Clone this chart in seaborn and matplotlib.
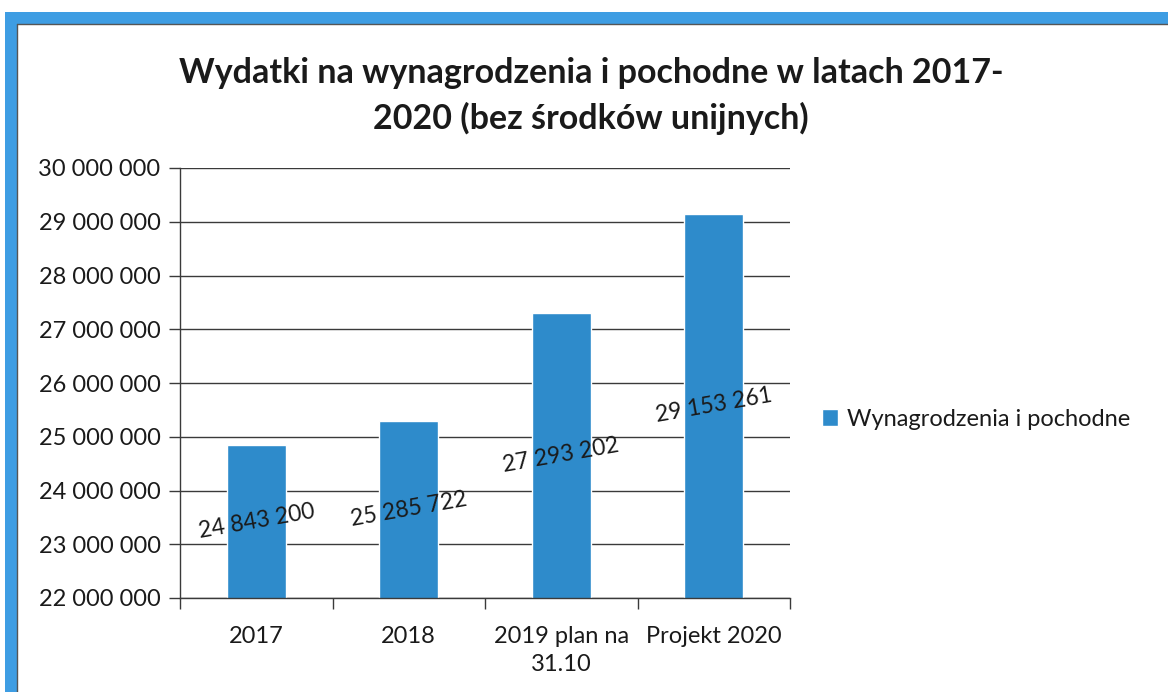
import matplotlib
matplotlib.use("Agg")
import matplotlib.pyplot as plt
import seaborn as sns
import pandas as pd
from matplotlib.patches import Rectangle
from matplotlib.ticker import FuncFormatter, FixedLocator

categories = ["2017", "2018", "2019 plan na\n31.10", "Projekt 2020"]
values = [24843200, 25285722, 27293202, 29153261]
series_name = "Wynagrodzenia i pochodne"
title = "Wydatki na wynagrodzenia i pochodne w latach 2017-\n2020 (bez środków unijnych)"
y_min, y_max, y_step = 22000000, 30000000, 1000000

sns.set_theme(style="white")
plt.rcParams['font.family'] = ['Lato', 'DejaVu Sans']

W, H = 1168, 692
fig = plt.figure(figsize=(W / 100, H / 100), dpi=100)
ax = fig.add_axes([180 / W, 1 - 598 / H, (790 - 180) / W, (598 - 168) / H])

bar_color = "#2E8BCB"
df = pd.DataFrame({"cat": categories, "val": values})
sns.barplot(data=df, x="cat", y="val", color=bar_color, saturation=1, width=0.39, ax=ax)

ax.set_ylim(y_min, y_max)
ax.set_xlim(-0.5, len(categories) - 0.5)
ax.set_xlabel("")
ax.set_ylabel("")
ticks = list(range(y_min, y_max + 1, y_step))
ax.yaxis.set_major_locator(FixedLocator(ticks))
ax.yaxis.set_major_formatter(FuncFormatter(lambda v, p: f"{int(v):,}".replace(",", " ")))
ax.grid(axis="y", color="#3a3a3a", linewidth=1.0)
ax.set_axisbelow(True)
for s in ["top", "right"]:
    ax.spines[s].set_visible(False)
for s in ["left", "bottom"]:
    ax.spines[s].set_color("#3a3a3a")
    ax.spines[s].set_linewidth(1.0)

ax.tick_params(axis="y", length=8, width=1, color="#3a3a3a", labelsize=17, labelcolor="#1a1a1a", pad=6, left=True)
ax.tick_params(axis="x", length=0, labelsize=17, labelcolor="#1a1a1a", pad=20)
for lbl in ax.get_xticklabels():
    lbl.set_linespacing(1.45)
# category boundary ticks on x axis
ax.set_xticks([i - 0.5 for i in range(len(categories) + 1)], minor=True)
ax.tick_params(axis="x", which="minor", length=8, width=1, color="#3a3a3a", bottom=True, direction="out")

for i, v in enumerate(values):
    ax.text(i, (y_min + v) / 2, f"{v:,}".replace(",", " "), rotation=10,
            ha="center", va="center", fontsize=16.5, color="#1a1a1a",
            rotation_mode="anchor")

fig.text(591 / W, 1 - 96 / H, title, ha="center", va="center", fontsize=24.5,
         fontweight="bold", color="#1a1a1a", linespacing=1.5)

handle = Rectangle((0, 0), 1, 1, facecolor=bar_color)
fig.legend([handle], [series_name], loc="center left", bbox_to_anchor=(810 / W, 1 - 419 / H),
           frameon=False, fontsize=17, handlelength=0.7, handleheight=0.7,
           handletextpad=0.35, borderpad=0, labelcolor="#1a1a1a")

# decorative frame (scan border)
fig.patches.append(Rectangle((5 / W, 0), 12 / W, 1 - 12 / H, transform=fig.transFigure,
                             facecolor="#3E9DE3", edgecolor="none", zorder=-1))
fig.patches.append(Rectangle((5 / W, 1 - 24 / H), 1 - 5 / W, 12 / H, transform=fig.transFigure,
                             facecolor="#3E9DE3", edgecolor="none", zorder=-1))
fig.add_artist(plt.Line2D([17 / W, 17 / W], [0, 1 - 24 / H], transform=fig.transFigure, color="#555555", lw=1))
fig.add_artist(plt.Line2D([17 / W, 1], [1 - 24 / H, 1 - 24 / H], transform=fig.transFigure, color="#555555", lw=1))

fig.savefig("out.png", dpi=100)
